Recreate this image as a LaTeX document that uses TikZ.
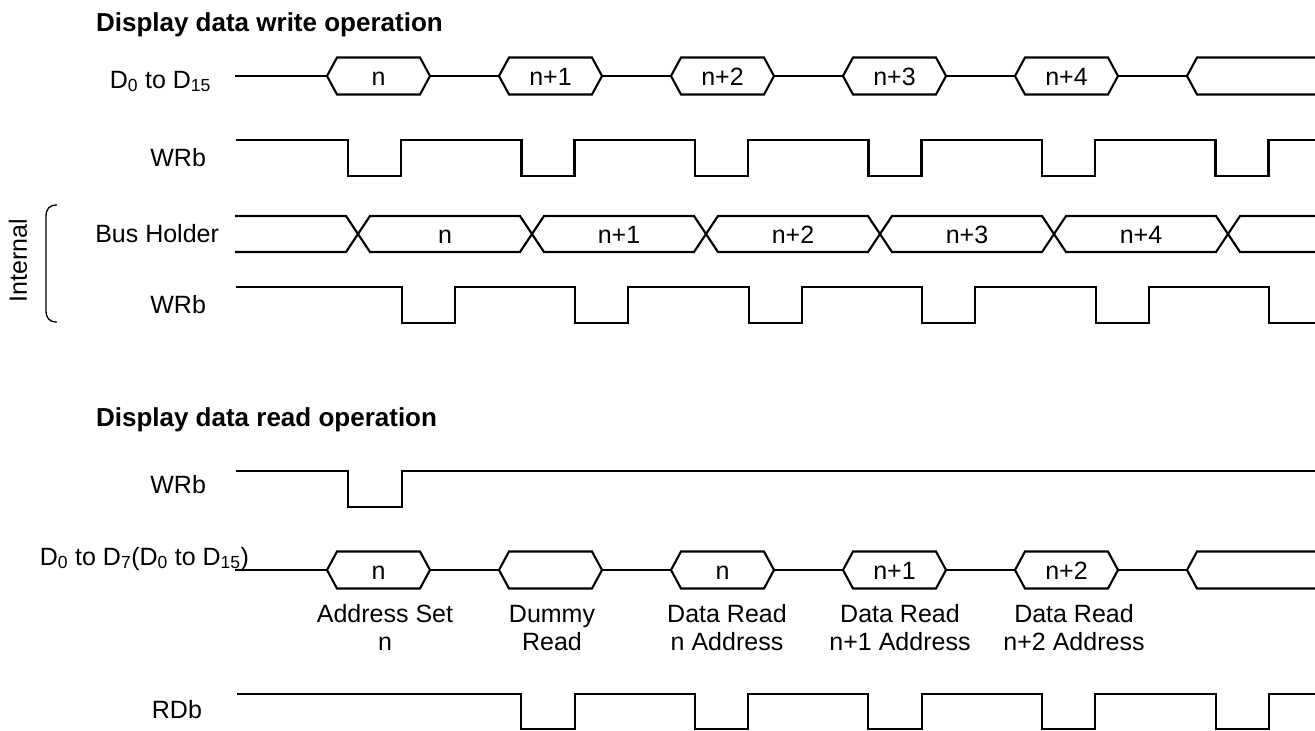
\documentclass[tikz,border=0pt]{standalone}
\usepackage{fontspec}
\setmainfont{Liberation Sans}
\begin{document}
\begin{tikzpicture}[x=1pt,y=-1pt,line width=2.1pt,line join=miter]
\tikzset{
  lbl/.style={font=\fontsize{25}{28}\selectfont,inner sep=0pt},
  ttl/.style={font=\fontsize{26}{28}\selectfont\bfseries,inner sep=0pt,anchor=base west},
  rlbl/.style={lbl,anchor=base east},
  ann/.style={lbl,anchor=base},
  brace/.style={line width=1.3pt},
}
\newcommand\hexa[4]{%
  \draw (#1,#2) -- (#1+10,#2-18.5) -- (#1+93,#2-18.5) -- (#1+103,#2) -- (#1+93,#2+18.5) -- (#1+10,#2+18.5) -- cycle;
  \node[ann] (#4) at (#1+51.5,#2+9) {#3};}
\useasboundingbox (0,0) rectangle (1315,731);

% titles
\node[ttl] (t1) at (95,31) {Display data write operation};
\node[ttl] (t2) at (95,426.5) {Display data read operation};

% ---- write: D0 to D15
\node[rlbl] (lD) at (212,88) {D\textsubscript{0} to D\textsubscript{15}};
\draw (235,76) -- (327,76);
\foreach \k/\t in {0/n,1/n+1,2/n+2,3/n+3,4/n+4}{
  \hexa{327+172*\k}{76}{\t}{w\k}
  \draw (327+172*\k+103,76) -- (327+172*\k+172,76);
}
\draw (1315,57.5) -- (1197,57.5) -- (1187,76) -- (1197,94.5) -- (1315,94.5);

% ---- write: WRb
\node[rlbl] (lW1) at (207,166) {WRb};
\draw (236,140) -- (348,140) |- (401,176) |- (521.5,140) |- (574.5,176) |- (695,140) |- (748,176)
  |- (868.5,140) |- (921.5,176) |- (1042,140) |- (1095,176) |- (1215.5,140) |- (1268.5,176) |- (1315,140);

% ---- internal bus holder
\node[rlbl] (lB) at (220,242) {Bus Holder};
\draw (235,216) -- (346,216) -- (370,252) -- (520,252) -- (544,216) -- (694,216) -- (718,252) -- (868,252)
  -- (892,216) -- (1042,216) -- (1066,252) -- (1216,252) -- (1240,216) -- (1315,216);
\draw (235,252) -- (346,252) -- (370,216) -- (520,216) -- (544,252) -- (694,252) -- (718,216) -- (868,216)
  -- (892,252) -- (1042,252) -- (1066,216) -- (1216,216) -- (1240,252) -- (1315,252);
\foreach \x/\t [count=\i] in {445/n,619/n+1,793/n+2,967/n+3,1141/n+4}
  \node[ann] (b\i) at (\x,243) {\t};

% ---- internal WRb
\node[rlbl] (lW2) at (207,313) {WRb};
\draw (236,287) -- (402,287) |- (455,323) |- (575.4,287) |- (628.4,323) |- (748.8,287) |- (801.8,323)
  |- (922.2,287) |- (975.2,323) |- (1095.6,287) |- (1148.6,323) |- (1269,287) |- (1315,323);

% brace + Internal
\draw[brace] (57,205) .. controls (49,205) and (46,209) .. (46,217) -- (46,310) .. controls (46,318) and (49,322) .. (57,322);
\node[lbl,rotate=90] (int) at (18,261) {Internal};

% ---- read: WRb
\node[rlbl] (lW3) at (207,493) {WRb};
\draw (236,471) -- (348,471) |- (402,507) |- (1315,471);

% ---- read: D0 to D7
\node[rlbl] (lD2) at (250,565) {D\textsubscript{0} to D\textsubscript{7}(D\textsubscript{0} to D\textsubscript{15})};
\draw (235,570) -- (327,570);
\foreach \k/\t in {0/n,1/{},2/n,3/n+1,4/n+2}{
  \hexa{327+172*\k}{570}{\t}{r\k}
  \draw (327+172*\k+103,570) -- (327+172*\k+172,570);
}
\draw (1315,551.5) -- (1197,551.5) -- (1187,570) -- (1197,588.5) -- (1315,588.5);

% annotations
\node[ann] (a1) at (385,622) {Address Set};
\node[ann] (a1b) at (385,650) {n};
\node[ann] (a2) at (552,622) {Dummy};
\node[ann] (a2b) at (552,650) {Read};
\node[ann] (a3) at (727,622) {Data Read};
\node[ann] (a3b) at (727,650) {n Address};
\node[ann] (a4) at (900,622) {Data Read};
\node[ann] (a4b) at (900,650) {n+1 Address};
\node[ann] (a5) at (1074,622) {Data Read};
\node[ann] (a5b) at (1074,650) {n+2 Address};

% ---- read: RDb
\node[rlbl] (lR) at (203,718) {RDb};
\draw (237,694) -- (521,694) |- (575,729) |- (695,694) |- (748,729) |- (868,694) |- (922,729)
  |- (1042,694) |- (1095,729) |- (1216,694) |- (1269,729) |- (1315,694);
\end{tikzpicture}
\end{document}
